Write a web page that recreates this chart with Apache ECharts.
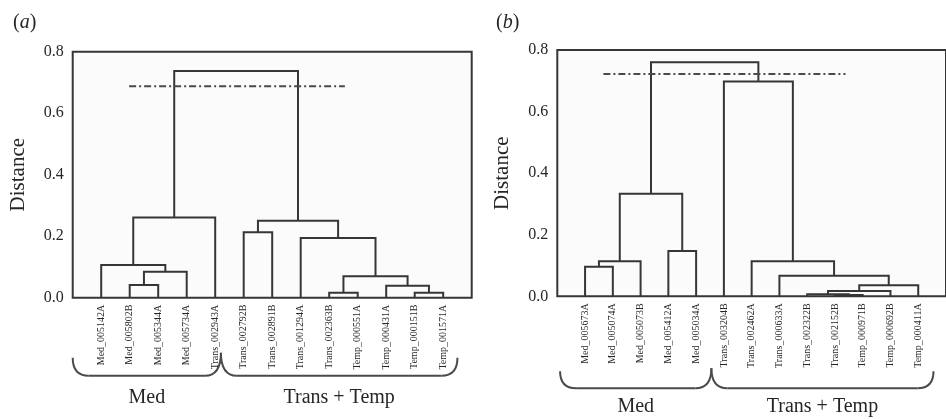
<!DOCTYPE html>
<html>
<head>
<meta charset="utf-8">
<script src="https://cdn.jsdelivr.net/npm/echarts@6/dist/echarts.min.js"></script>
<style>
  html, body { margin: 0; padding: 0; background: #ffffff; }
  #chart { width: 946px; height: 419px; }
</style>
</head>
<body>
<div id="chart"></div>
<script>
// ---- Panel (a): leaves, linkage (child ids, heights), cut line, groups ----
const leavesA = ['Med_005142A', 'Med_005802B', 'Med_005344A', 'Med_005734A', 'Trans_002943A',
  'Trans_002792B', 'Trans_002891B', 'Trans_001294A', 'Trans_002363B', 'Temp_000551A',
  'Temp_000431A', 'Temp_000151B', 'Temp_001571A'];
const mergesA = [[1, 2], [13, 3], [0, 14], [15, 4], [5, 6], [8, 9], [11, 12], [10, 19], [18, 20], [7, 21], [17, 22], [16, 23]];
const heightsA = [0.041, 0.084, 0.106, 0.261, 0.213, 0.016, 0.016, 0.039, 0.070, 0.194, 0.250, 0.737];
const cutSpanA = [1.98, 9.55];
const cutHeightA = 0.688;
const groupNamesA = ['Med', 'Trans + Temp'];
const groupBoundsA = [0, 5.2, 13.5];

// ---- Panel (b) ----
const leavesB = ['Med_005673A', 'Med_005074A', 'Med_005073B', 'Med_005412A', 'Med_005034A',
  'Trans_003204B', 'Trans_002462A', 'Trans_000633A', 'Trans_002322B', 'Trans_002152B',
  'Temp_000971B', 'Temp_000692B', 'Temp_000411A'];
const mergesB = [[0, 1], [13, 2], [3, 4], [14, 15], [9, 10], [8, 17], [18, 11], [19, 12], [7, 20], [6, 21], [5, 22], [16, 23]];
const heightsB = [0.096, 0.114, 0.147, 0.333, 0.004, 0.007, 0.017, 0.036, 0.067, 0.114, 0.698, 0.760];
const cutSpanB = [1.66, 10.38];
const cutHeightB = 0.722;
const groupNamesB = ['Med', 'Trans + Temp'];
const groupBoundsB = [0.1, 5.55, 13.55];

const yTicks = [0, 0.2, 0.4, 0.6, 0.8];

const INK = '#363636';
const TEXT = '#262626';
const SERIF = '"Liberation Serif", "DejaVu Serif", serif';

// Turn a linkage list into U-shaped dendrogram links in (leaf position, height) space.
function buildLinks(nLeaves, merges, heights) {
  const pos = [], h = [];
  for (let i = 0; i < nLeaves; i++) { pos.push(i + 1); h.push(0); }
  const links = [];
  merges.forEach(([a, b], k) => {
    const H = heights[k];
    links.push({ coords: [[pos[a], h[a]], [pos[a], H], [pos[b], H], [pos[b], h[b]]] });
    pos.push((pos[a] + pos[b]) / 2);
    h.push(H);
  });
  return links;
}

function xAxisFor(gridIndex, leaves) {
  return {
    type: 'value', gridIndex, min: 0, max: leaves.length + 1, interval: 1,
    axisLine: { show: false }, axisTick: { show: false }, splitLine: { show: false },
    axisLabel: {
      rotate: 90, margin: 7, fontSize: 10, fontFamily: SERIF, color: TEXT,
      formatter: v => leaves[v - 1] || ''
    }
  };
}

function yAxisFor(gridIndex) {
  return {
    type: 'value', gridIndex, min: yTicks[0], max: yTicks[yTicks.length - 1], interval: 0.2,
    name: 'Distance', nameLocation: 'middle', nameGap: 44, nameRotate: 90,
    nameTextStyle: { fontSize: 21, fontFamily: SERIF, color: TEXT },
    axisLine: { show: false }, axisTick: { show: false }, splitLine: { show: false },
    axisLabel: { margin: 9, fontSize: 16, fontFamily: SERIF, color: TEXT, formatter: v => v.toFixed(1) }
  };
}

function treeSeries(idx, leaves, merges, heights) {
  return {
    type: 'lines', coordinateSystem: 'cartesian2d', xAxisIndex: idx, yAxisIndex: idx,
    polyline: true, silent: true, animation: false,
    lineStyle: { color: INK, width: 2, opacity: 1 },
    data: buildLinks(leaves.length, merges, heights)
  };
}

function cutSeries(idx, span, height) {
  return {
    type: 'line', xAxisIndex: idx, yAxisIndex: idx, symbol: 'none', silent: true, animation: false,
    lineStyle: { color: '#4a4a4a', width: 2, type: [7, 3, 2, 3] },
    data: [[span[0], height], [span[1], height]]
  };
}

const chart = echarts.init(document.getElementById('chart'), null, { renderer: 'canvas' });

const gridStyle = { show: true, borderColor: INK, borderWidth: 2, backgroundColor: '#fbfbfb' };

function panelTag(letter, left) {
  const part = { fontSize: 20, fontFamily: SERIF, fontWeight: 'normal', color: TEXT };
  return {
    text: '{p|(}{i|' + letter + '}{p|)}', left, top: 8,
    textStyle: { fontWeight: 'normal', rich: { p: part, i: Object.assign({}, part, { fontStyle: 'italic' }) } }
  };
}

chart.setOption({
  backgroundColor: '#ffffff',
  animation: false,
  title: [panelTag('a', 8), panelTag('b', 491)],
  grid: [
    Object.assign({ left: 72.7, right: 474.3, top: 51.7, bottom: 121.3 }, gridStyle),
    Object.assign({ left: 557.3, right: -11.4, top: 50, bottom: 122.7 }, gridStyle)
  ],
  xAxis: [xAxisFor(0, leavesA), xAxisFor(1, leavesB)],
  yAxis: [yAxisFor(0), yAxisFor(1)],
  series: [
    treeSeries(0, leavesA, mergesA, heightsA),
    cutSeries(0, cutSpanA, cutHeightA),
    treeSeries(1, leavesB, mergesB, heightsB),
    cutSeries(1, cutSpanB, cutHeightB)
  ]
});

// Curly group braces under the leaf labels, placed from the x axis scale.
function braceGraphics(gridIndex, bounds, names, endDrop, bottomDrop, cuspDrop, textDrop) {
  const base = chart.convertToPixel({ gridIndex }, [0, 0])[1];
  const xs = bounds.map(v => chart.convertToPixel({ gridIndex }, [v, 0])[0]);
  const els = [];
  const style = { stroke: '#4a4a4a', lineWidth: 2, fill: null };
  const r = 16;
  for (let g = 0; g < names.length; g++) {
    const xl = xs[g], xr = xs[g + 1];
    const yl = base + (g === 0 ? endDrop : cuspDrop);
    const yr = base + (g === names.length - 1 ? endDrop : cuspDrop);
    const yb = base + bottomDrop;
    els.push({ type: 'bezierCurve', silent: true, style,
      shape: { x1: xl, y1: yl, x2: xl + r, y2: yb, cpx1: xl, cpy1: yb } });
    els.push({ type: 'line', silent: true, style,
      shape: { x1: xl + r, y1: yb, x2: xr - r, y2: yb } });
    els.push({ type: 'bezierCurve', silent: true, style,
      shape: { x1: xr - r, y1: yb, x2: xr, y2: yr, cpx1: xr, cpy1: yb } });
    els.push({ type: 'text', silent: true, x: (xl + xr) / 2, y: base + textDrop,
      style: { text: names[g], fill: TEXT, fontSize: 20, fontFamily: SERIF, align: 'center', verticalAlign: 'middle' } });
  }
  return els;
}

chart.setOption({
  graphic: [].concat(
    braceGraphics(0, groupBoundsA, groupNamesA, 60, 78, 55, 100),
    braceGraphics(1, groupBoundsB, groupNamesB, 75, 92, 72, 110)
  )
});
</script>
</body>
</html>
